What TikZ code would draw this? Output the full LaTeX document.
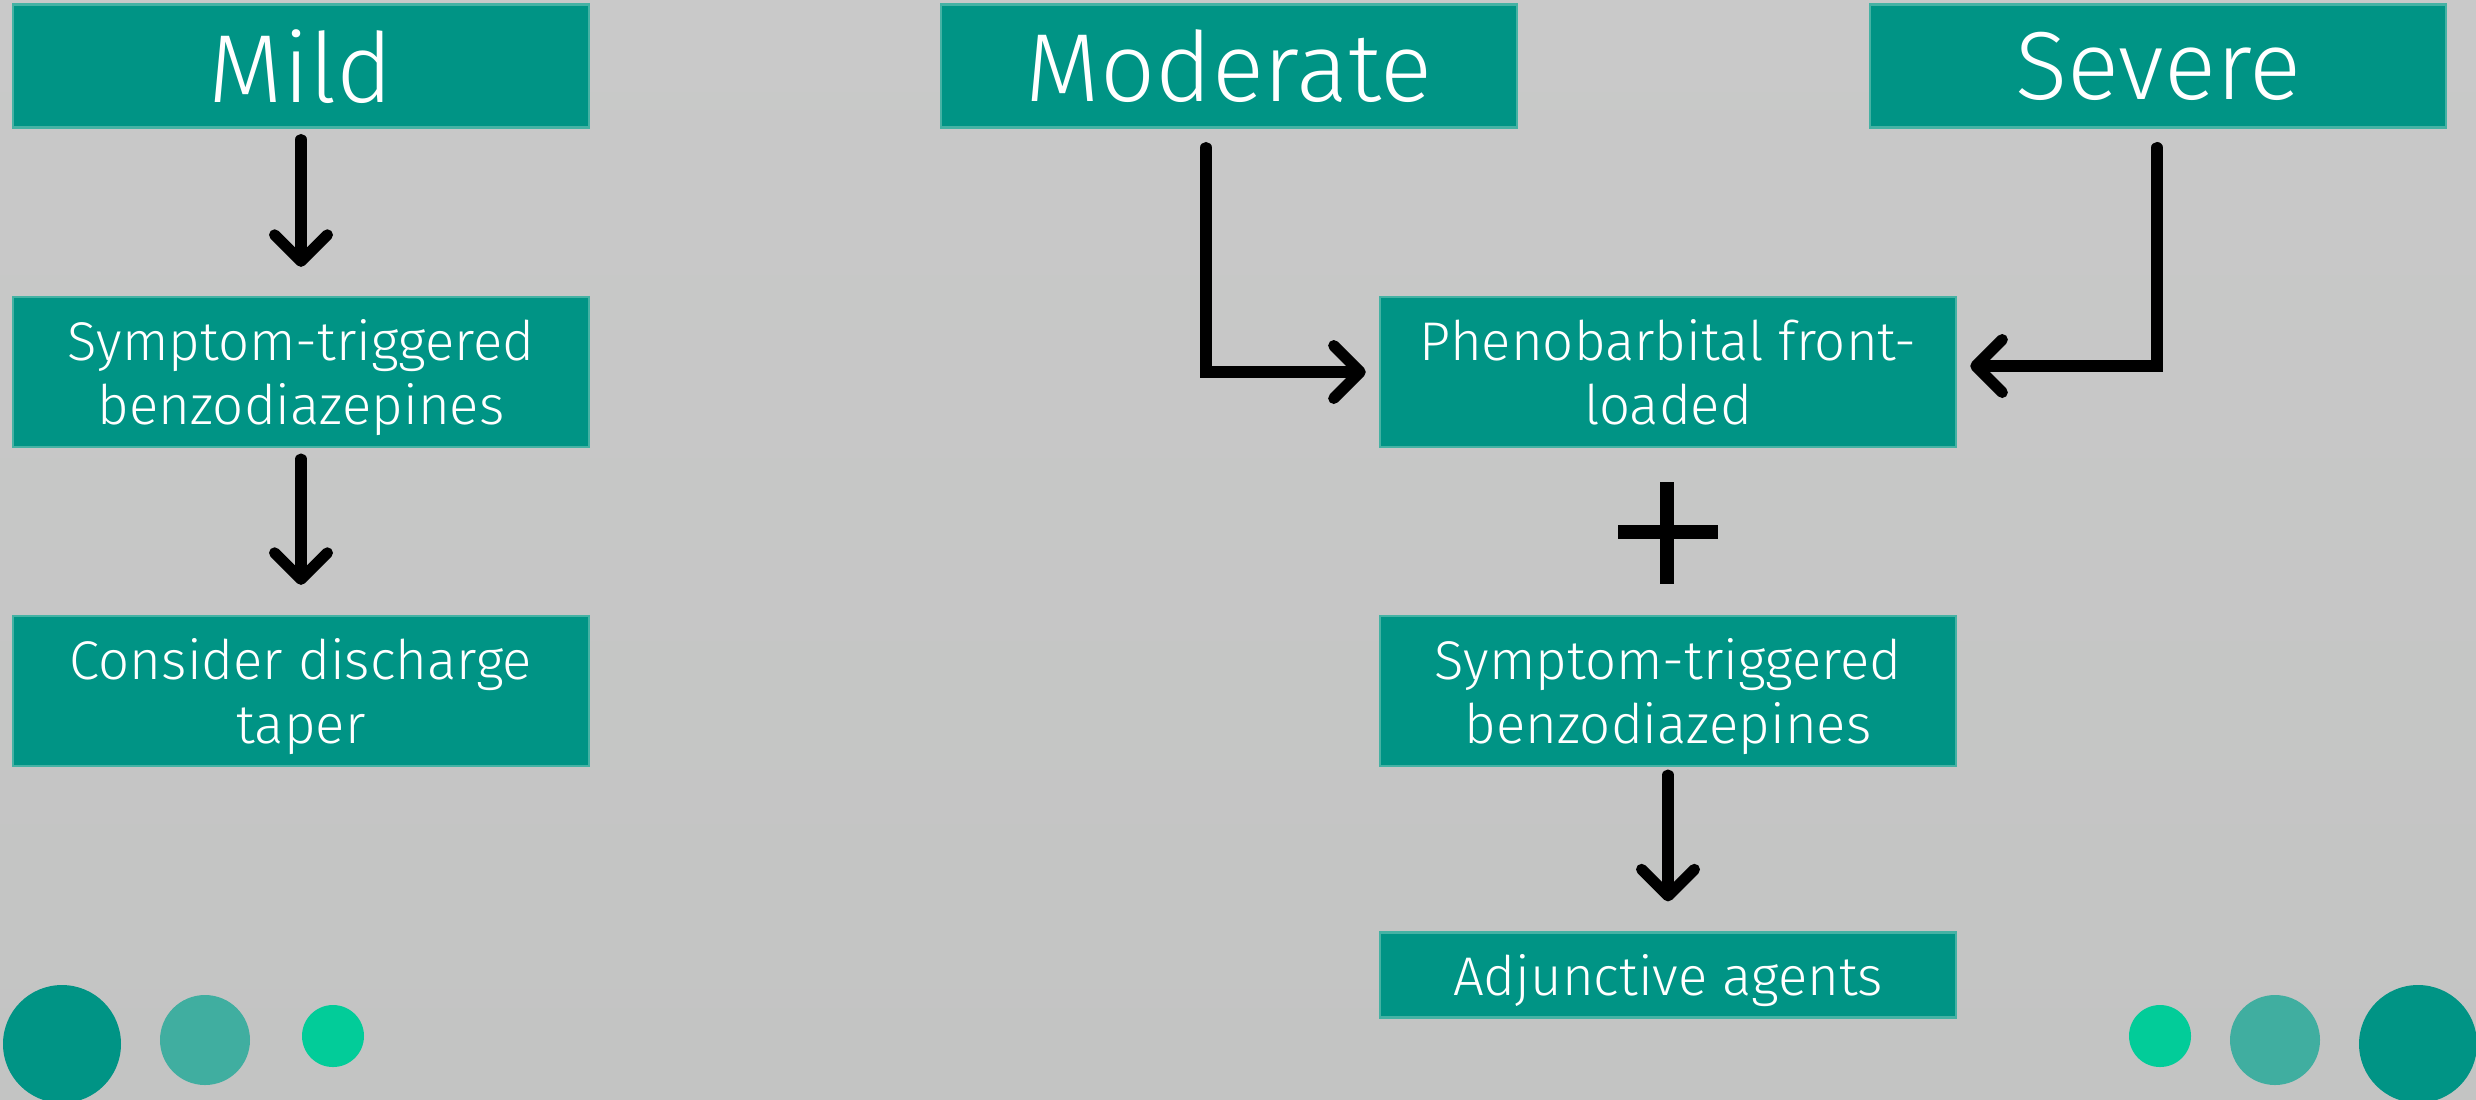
\documentclass[tikz,border=0pt]{standalone}
\usepackage{fontspec}
\setmainfont{Fira Sans Light}
\usetikzlibrary{arrows.meta}
\definecolor{boxteal}{HTML}{009485}
\definecolor{boxedge}{HTML}{45B2A4}
\definecolor{midteal}{HTML}{40AEA0}
\definecolor{mint}{HTML}{02CC99}
\definecolor{bgtop}{HTML}{C9C9C9}
\definecolor{bgbot}{HTML}{C3C4C3}

\begin{document}
\begin{tikzpicture}[x=0.01cm,y=-0.01cm,
  box/.style={fill=boxteal,draw=boxedge,line width=0.6pt,text=white,
    minimum width=5.76cm,align=center,inner sep=0pt,text depth=0pt},
  big/.style={box,minimum height=1.23cm,font=\fontsize{27.5}{32}\selectfont},
  small/.style={box,minimum height=1.5cm,font=\fontsize{15.5}{18}\selectfont},
  arr/.style={line width=3.2pt,line cap=round,
    -{Straight Barb[length=7.5pt,width=15pt,line cap=round,line join=round]}}]
% background
\useasboundingbox (0,0) rectangle (2476,1099);
\shade[top color=bgtop,bottom color=bgbot] (0,0) rectangle (2476,1099);
% boxes
\node[big] (mild) at (301,66) {Mild};
\node[big] (moderate) at (1229,66) {Moderate};
\node[big] (severe) at (2158,66) {Severe};
\node[small] (symL) at (301,372) {Symptom-triggered\\benzodiazepines};
\node[small] (consider) at (301,691) {Consider discharge\\taper};
\node[small] (pheno) at (1668,372) {Phenobarbital front-\\loaded};
\node[small] (symR) at (1668,691) {Symptom-triggered\\benzodiazepines};
\node[small,minimum height=0.85cm] (adjunct) at (1668,975) {Adjunctive agents};
% arrows
\draw[arr,shorten <=0.11cm,shorten >=0.29cm] (mild) -- (symL);
\draw[arr,shorten <=0.11cm,shorten >=0.30cm] (symL) -- (consider);
\draw[arr,shorten <=0.08cm,shorten >=0.30cm] (symR) -- (adjunct);
\draw[arr] ([shift={(-23,19)}]moderate.south) |- ([xshift=-0.13cm]pheno.west);
\draw[arr] ([shift={(-1,19)}]severe.south) |- ([shift={(13,-6)}]pheno.east);
% plus
\draw[line width=0.14cm] (1667,482) -- (1667,584) (1618,532) -- (1718,532);
% dots
\fill[boxteal] (62,1044) circle (59) (2418,1044) circle (59);
\fill[midteal] (205,1040) circle (45) (2275,1040) circle (45);
\fill[mint] (333,1036) circle (31) (2160,1036) circle (31);
\end{tikzpicture}
\end{document}
